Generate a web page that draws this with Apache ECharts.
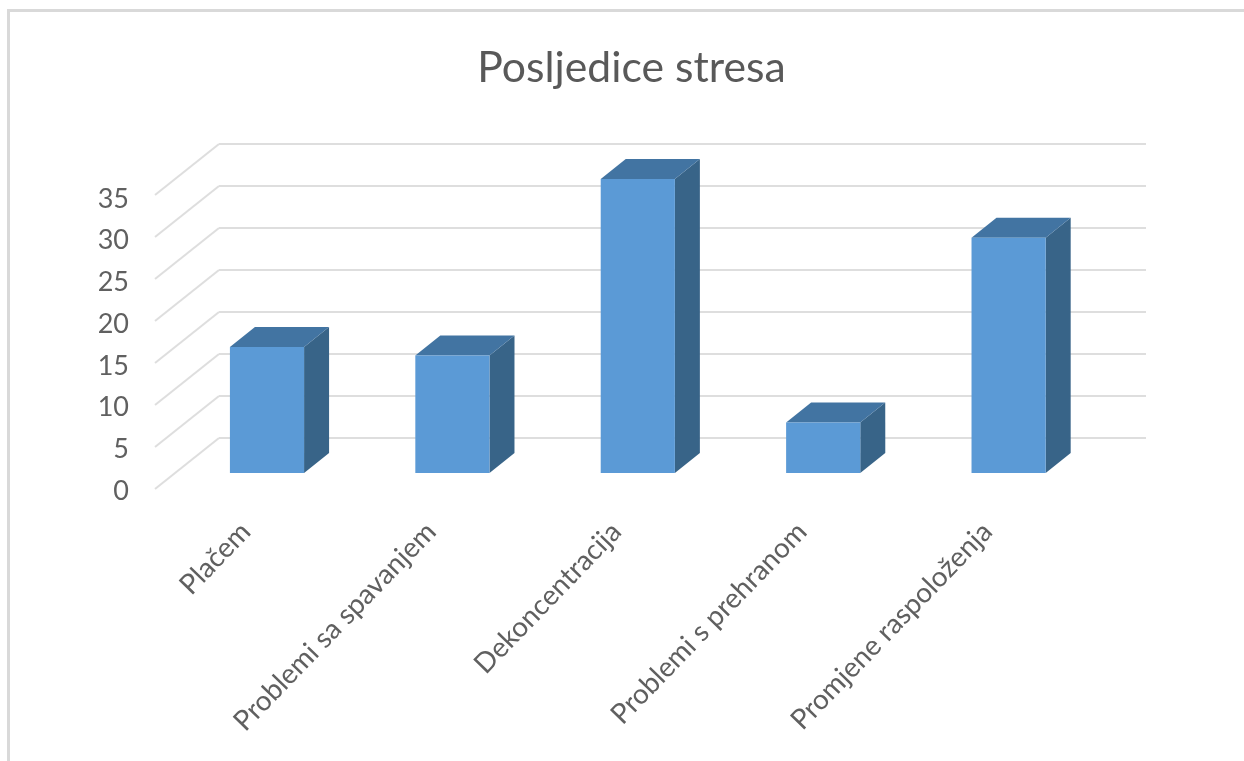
<!DOCTYPE html>
<html><head><meta charset="utf-8">
<style>html,body{margin:0;padding:0;background:#fff}#c{width:1244px;height:761px}</style>
<script src="https://cdn.jsdelivr.net/npm/echarts@6/dist/echarts.min.js"></script>
</head><body><div id="c"></div>
<script>
const categories = ['Plačem','Problemi sa spavanjem','Dekoncentracija','Problemi s prehranom','Promjene raspoloženja'];
const values = [15, 14, 35, 6, 28];
const ticks = [0,5,10,15,20,25,30,35];
const FONT = 'Lato';
const textCol = '#606060';
const gridCol = '#dedede';
const wall = {dx:64, dy:-51};
const barOff = {dx:19.3, dy:-16};
const barDepth = {dx:25, dy:-20};

const chart = echarts.init(document.getElementById('c'), null, {renderer:'canvas'});
chart.setOption({
  animation:false,
  backgroundColor:'#ffffff',
  title:{text:'Posljedice stresa', left:626.5, top:42, textAlign:'center',
    textStyle:{fontFamily:FONT,fontSize:42.7,fontWeight:'normal',color:'#595959'}},
  graphic:[
    {type:'rect',shape:{x:7,y:9,width:1237,height:3},style:{fill:'#d9d9d9'},silent:true},
    {type:'rect',shape:{x:7,y:9,width:3,height:752},style:{fill:'#d9d9d9'},silent:true}
  ],
  grid:[
    {left:219, top:144, width:927, height:294},
    {left:155, top:195, width:927, height:294},
    {left:153, top:199, width:927, height:292}
  ],
  xAxis:[
    {type:'category',gridIndex:0,data:categories,show:false},
    {type:'category',gridIndex:1,data:categories,show:false},
    {type:'category',gridIndex:2,data:categories,
      axisLine:{show:false},axisTick:{show:false},
      axisLabel:{rotate:46,interval:0,margin:36,fontFamily:FONT,fontSize:27.8,color:textCol}}
  ],
  yAxis:[
    {type:'value',gridIndex:0,min:0,max:35,interval:5,
      axisLabel:{show:false},axisLine:{show:false},axisTick:{show:false},
      splitLine:{show:true,lineStyle:{color:gridCol,width:2}}},
    {type:'value',gridIndex:1,min:0,max:35,interval:5,show:false},
    {type:'value',gridIndex:2,min:0,max:35,interval:5,
      axisLine:{show:false},axisTick:{show:false},splitLine:{show:false},
      axisLabel:{margin:24,fontFamily:FONT,fontSize:27,color:textCol}}
  ],
  series:[
    {type:'custom',xAxisIndex:1,yAxisIndex:1,z:1,silent:true,
      data:ticks.map(t=>[0,t]),
      renderItem(params,api){
        const p = api.coord([0,api.value(1)]);
        const x = params.coordSys.x;
        return {type:'line',shape:{x1:x,y1:p[1],x2:x+wall.dx,y2:p[1]+wall.dy},
          style:{stroke:gridCol,lineWidth:2}};
      }},
    {type:'custom',xAxisIndex:1,yAxisIndex:1,z:3,silent:true,
      data:values.map((v,i)=>[i,v]),
      renderItem(params,api){
        const top = api.coord([api.value(0),api.value(1)]);
        const base = api.coord([api.value(0),0]);
        const w = api.size([1,0])[0]*0.4;
        const l = top[0]+barOff.dx-w/2, r = l+w;
        const t = top[1]+barOff.dy, b = base[1]+barOff.dy;
        const d = barDepth;
        return {type:'group',children:[
          {type:'polygon',shape:{points:[[r,t],[r+d.dx,t+d.dy],[r+d.dx,b+d.dy],[r,b]]},style:{fill:'#386488'}},
          {type:'polygon',shape:{points:[[l,t],[l+d.dx,t+d.dy],[r+d.dx,t+d.dy],[r,t]]},style:{fill:'#4274a2'}},
          {type:'rect',shape:{x:l,y:t,width:w,height:b-t},style:{fill:'#5b9ad6'}}
        ]};
      }}
  ]
});
</script></body></html>
